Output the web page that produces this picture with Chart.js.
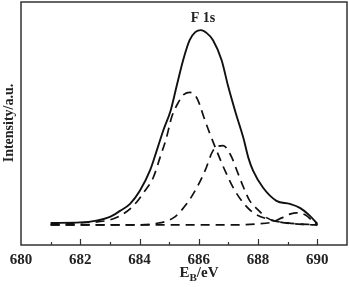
<!DOCTYPE html>
<html>
<head>
<meta charset="utf-8">
<script src="https://cdn.jsdelivr.net/npm/chart.js@4"></script>
<style>
  html, body { margin: 0; padding: 0; background: #fff; }
  #wrap { width: 349px; height: 287px; }
</style>
</head>
<body>
<div id="wrap"><canvas id="xps-Chart" width="349" height="287"></canvas></div>
<script>
// -------------------- DATA --------------------
// binding energy (eV) and intensity (a.u.)
const envX = [681, 682, 682.5, 683, 683.34, 683.68, 684.01, 684.35, 684.58, 684.8, 685.05, 685.25, 685.47, 685.69, 685.88, 686.07, 686.27, 686.48, 686.77, 686.99, 687.24, 687.5, 687.67, 687.83, 688.17, 688.62, 689.07, 689.41, 689.75, 690];
const envY = [2, 2.5, 4, 8, 14, 21, 34, 54, 74, 94, 114, 138, 164, 184, 192, 194, 191, 184, 164, 138, 112, 87, 67, 54, 37, 24, 21, 17, 9, 1];

const peak1X = [681, 682, 683, 683.34, 683.79, 684.18, 684.46, 684.69, 684.91, 685.08, 685.31, 685.5, 685.7, 685.9, 686.04, 686.15, 686.32, 686.6, 686.9, 687.2, 687.5, 687.8, 688.3, 689, 690];
const peak1Y = [1, 2, 5, 9, 19, 34, 47, 67, 87, 107, 122, 130, 132, 128, 119, 109, 95, 74, 53, 35, 22, 13, 6, 2, 0];

const peak2X = [681, 684, 684.46, 685.14, 685.59, 685.93, 686.21, 686.48, 686.82, 687.1, 687.3, 687.5, 687.7, 688, 688.3, 688.7, 689.5, 690];
const peak2Y = [0, 0, 1, 7, 21, 37, 54, 74, 79, 68, 53, 38, 25, 15, 7, 3, 0.5, 0];

const peak3X = [681, 687, 688, 688.5, 688.8, 689.1, 689.3, 689.6, 689.8, 690];
const peak3Y = [0, 0, 1, 3, 7, 11, 12, 10, 5, 0];

const xTicks = [680, 682, 684, 686, 688, 690];

// turn two arrays into {x, y} points
function pts(xs, ys) {
  return xs.map((x, i) => ({ x: x, y: ys[i] }));
}

const SERIF = "'Liberation Serif', 'Times New Roman', serif";

// -------------------- DECORATION PLUGIN --------------------
// frame, inward ticks and the text labels
const decor = {
  id: "decor",
  afterDraw(chart) {
    const c = chart.ctx;
    const a = chart.chartArea;
    const xs = chart.scales.x;
    c.save();

    // frame
    c.strokeStyle = "#333";
    c.lineWidth = 1.5;
    c.strokeRect(a.left, a.top, a.right - a.left, a.bottom - a.top);

    // inward ticks on bottom axis
    c.lineWidth = 1.2;
    for (let v = 681; v <= 690; v++) {
      const px = Math.round(xs.getPixelForValue(v)) + 0.5;
      const len = v % 2 === 0 ? 6 : 3;
      c.beginPath();
      c.moveTo(px, a.bottom);
      c.lineTo(px, a.bottom - len);
      c.stroke();
    }

    c.fillStyle = "#222";

    // peak label
    c.font = "bold 14px " + SERIF;
    c.textAlign = "center";
    c.textBaseline = "middle";
    c.fillText("F 1s", 203, 18);

    // y title
    c.save();
    c.translate(9, 123);
    c.rotate(-Math.PI / 2);
    c.font = "bold 14px " + SERIF;
    c.fillText("Intensity/a.u.", 0, 0);
    c.restore();

    // x title with subscript
    c.textBaseline = "alphabetic";
    c.textAlign = "left";
    const big = "bold 15px " + SERIF;
    const small = "bold 11px " + SERIF;
    c.font = big;
    const wE = c.measureText("E").width;
    const wRest = c.measureText("/eV").width;
    c.font = small;
    const wB = c.measureText("B").width;
    let x0 = 199 - (wE + wB + wRest) / 2;
    const base = 277;
    c.font = big;
    c.fillText("E", x0, base);
    c.font = small;
    c.fillText("B", x0 + wE, base + 4);
    c.font = big;
    c.fillText("/eV", x0 + wE + wB, base);

    c.restore();
  },
};

// -------------------- CHART --------------------
const dashed = [9, 6];

new Chart(document.getElementById("xps-Chart"), {
  type: "line",
  data: {
    datasets: [
      { label: "envelope", data: pts(envX, envY), borderColor: "#111", borderWidth: 1.9 },
      { label: "peak 1", data: pts(peak1X, peak1Y), borderColor: "#111", borderWidth: 1.7, borderDash: dashed },
      { label: "peak 2", data: pts(peak2X, peak2Y), borderColor: "#111", borderWidth: 1.7, borderDash: dashed },
      { label: "peak 3", data: pts(peak3X, peak3Y), borderColor: "#111", borderWidth: 1.7, borderDash: dashed },
    ],
  },
  options: {
    responsive: false,
    animation: false,
    devicePixelRatio: 1,
    layout: { padding: { left: 21, right: 2, top: 2, bottom: 0 } },
    elements: {
      point: { radius: 0 },
      line: { cubicInterpolationMode: "monotone", fill: false },
    },
    plugins: { legend: { display: false }, tooltip: { enabled: false } },
    scales: {
      x: {
        type: "linear",
        min: 680,
        max: 691,
        afterBuildTicks: (s) => { s.ticks = xTicks.map((v) => ({ value: v })); },
        afterFit: (s) => { s.height = 42; },
        grid: { display: false, drawTicks: false },
        border: { display: false },
        ticks: {
          padding: 6,
          color: "#222",
          font: { family: SERIF, size: 15, weight: "bold" },
          autoSkip: false,
          maxRotation: 0,
        },
      },
      y: {
        display: false,
        min: -20,
        max: 222,
      },
    },
  },
  plugins: [decor],
});
</script>
</body>
</html>
